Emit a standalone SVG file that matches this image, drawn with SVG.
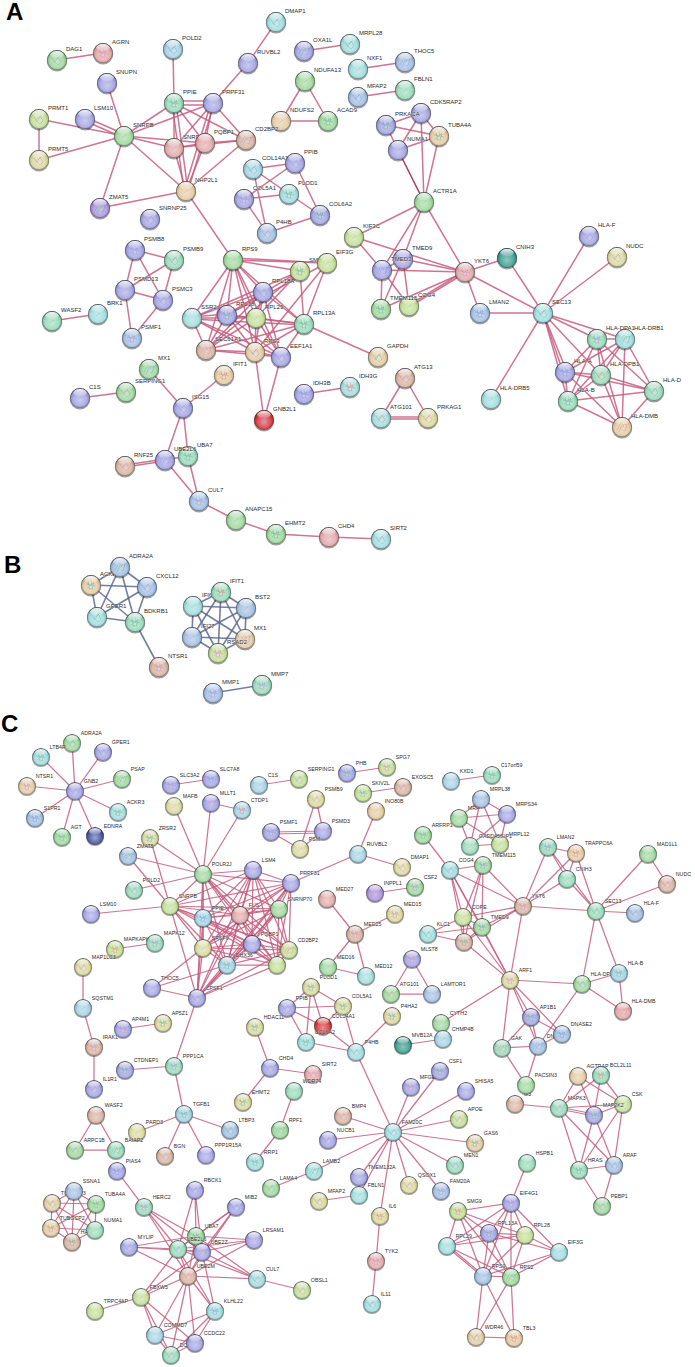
<svg xmlns="http://www.w3.org/2000/svg" width="695" height="1367" viewBox="0 0 695 1367">
<style>
.bg{fill:#fff}
.panel{font:bold 24px "Liberation Sans",Arial,sans-serif;fill:#000}
.e path{fill:none;stroke:#c75c7e;stroke-width:1.5;stroke-opacity:.85}
.e.c path{stroke-width:1.25}
.e.b path{stroke:#5b6890;stroke-width:1.6}
.n{stroke:#7a64b8}
.n text{font:6px "Liberation Sans",Arial,sans-serif;fill:#2a2a2a;stroke:#fff;stroke-width:.7;stroke-opacity:.6;paint-order:stroke}
.x1{stroke:#2a8a70}.x2{stroke:#c0503c}.x3{stroke:#4068c0}.x4{stroke:#b05aa0}
.g{fill:#9cd89a}.m{fill:#96dab8}.t{fill:#9edcdc}.lb{fill:#a2d2e4}.bl{fill:#a0bee2}.p{fill:#a2a2e4}.v{fill:#a892dc}.r{fill:#e2a6a6}.s{fill:#e4caa0}.o{fill:#d8b29e}.y{fill:#dad89a}.l{fill:#c2de94}.d{fill:#3a9c8e}.R{fill:#d63434}.N{fill:#46549c}
</style>
<defs>
<radialGradient id="sh" cx=".5" cy=".6" r=".58"><stop offset="0" stop-color="#fff" stop-opacity=".45"/><stop offset=".6" stop-color="#fff" stop-opacity=".12"/><stop offset=".82" stop-color="#000" stop-opacity=".08"/><stop offset="1" stop-color="#000" stop-opacity=".55"/></radialGradient>
<linearGradient id="hl" x1="0" y1="0" x2="0" y2="1"><stop offset="0" stop-color="#fff" stop-opacity=".95"/><stop offset="1" stop-color="#fff" stop-opacity=".1"/></linearGradient>
<g id="base"><circle cy="1.3" r="10.2" fill="#000" fill-opacity=".38" stroke="none"/><circle r="9.9" stroke="none"/></g>
<g id="top"><circle r="9.9" fill="url(#sh)" stroke="none"/><ellipse cy="-5.4" rx="6.8" ry="3.8" fill="url(#hl)" stroke="none"/><circle r="9.6" fill="none" stroke="#223" stroke-opacity=".5" stroke-width=".7"/></g>
<g id="a"><use href="#base"/><path d="M-5-2L-2 3 1-3 4 2 1 5-3 1 0-1 3-4" fill="none" stroke-width=".45" stroke-opacity=".8"/><use href="#top"/></g>
<g id="b"><use href="#base"/><path d="M-5 3L-1-4 2-1-2 2 3 4 5-3 0-2-3 5" fill="none" stroke-width=".45" stroke-opacity=".8"/><use href="#top"/></g>
<g id="c"><use href="#base"/><path d="M-3-5L-1 5M0-5L2 5M-5-1L5 1M3-3L-4 3M-4-3L-1 1 3-2 1 4-3 3" fill="none" stroke-width=".45" stroke-opacity=".85"/><use href="#top"/></g>
<g id="f"><use href="#base"/><path d="M-2 2L2-1" fill="none" stroke-width=".45" stroke-opacity=".8"/><use href="#top"/></g>
</defs>
<rect class="bg" width="695" height="1367"/>
<g id="connectors">
<g class="e" id="edges-A">
<path d="M57 60L103 53"/><path d="M173 49L174 103"/><path d="M248 63L276 22"/><path d="M248 63L213 103"/><path d="M304 51L350 44"/><path d="M358 69L405 62"/><path d="M358 97L405 90"/><path d="M305 81L281 121"/><path d="M305 81L328 121"/><path d="M281 121L328 121"/>
<path d="M107 83L124 136"/><path d="M39 119L39 160"/><path d="M39 119L124 136"/><path d="M85 117L124 134"/><path d="M85 121L124 138"/><path d="M39 160L124 136"/><path d="M124 136L174 103"/><path d="M124 136L213 103"/><path d="M124 136L174 148"/><path d="M124 136L205 143"/><path d="M124 136L186 191"/><path d="M124 136L100 208"/><path d="M100 208L186 191"/>
<path d="M174 101L213 101"/><path d="M174 105L213 105"/><path d="M174 103L174 148"/><path d="M174 103L205 143"/><path d="M174 103L246 140"/><path d="M172 103L184 191"/><path d="M176 103L188 191"/><path d="M213 103L174 148"/><path d="M213 103L205 143"/><path d="M213 103L246 140"/><path d="M211 103L184 191"/><path d="M214 103L188 191"/><path d="M174 148L205 143"/><path d="M174 148L246 140"/><path d="M174 148L186 191"/><path d="M205 143L246 140"/><path d="M205 143L186 191"/><path d="M246 140L186 191"/><path d="M186 191L233 260"/>
<path d="M253 169L295 163"/><path d="M253 169L289 194"/><path d="M253 169L267 233"/><path d="M244 199L289 194"/><path d="M244 199L267 233"/><path d="M244 199L295 163"/><path d="M295 163L320 215"/><path d="M289 194L320 215"/><path d="M267 233L320 215"/>
<path d="M135 250L174 260"/><path d="M135 250L125 290"/><path d="M135 250L163 300"/><path d="M174 260L163 300"/><path d="M174 260L125 290"/><path d="M125 290L163 300"/><path d="M125 290L132 338"/><path d="M163 300L132 338"/><path d="M52 321L98 314"/><path d="M80 398L126 392"/><path d="M149 369L183 408"/><path d="M224 375L183 408"/><path d="M183 408L165 460"/><path d="M183 408L188 456"/><path d="M125 467L165 461"/><path d="M125 465L165 459"/><path d="M165 460L188 456"/><path d="M165 460L199 501"/><path d="M188 456L199 501"/><path d="M199 501L236 520"/><path d="M236 520L276 534"/><path d="M276 534L329 537"/><path d="M329 537L381 539"/><path d="M304 394L350 387"/><path d="M405 378L381 418"/><path d="M405 378L428 418"/><path d="M381 417L428 417"/><path d="M381 419L428 419"/><path d="M264 420L255 352"/><path d="M264 420L281 357"/><path d="M304 324L378 357"/>
<path d="M233 260L300 271"/><path d="M233 258L327 263"/><path d="M233 260L327 263"/><path d="M233 260L263 292"/><path d="M233 260L227 315"/><path d="M233 260L192 318"/><path d="M233 260L256 318"/><path d="M233 260L304 324"/><path d="M233 260L206 350"/><path d="M233 260L255 352"/><path d="M233 260L281 357"/>
<path d="M300 271L304 324"/><path d="M327 263L304 324"/><path d="M327 263L227 315"/><path d="M300 271L227 315"/><path d="M300 271L256 318"/><path d="M300 271L192 318"/><path d="M300 271L206 350"/><path d="M327 263L255 352"/>
<path d="M263 292L192 318"/><path d="M263 292L227 315"/><path d="M263 292L256 318"/><path d="M263 292L304 324"/><path d="M263 292L206 350"/><path d="M263 292L255 352"/><path d="M263 292L281 357"/>
<path d="M192 317L227 314"/><path d="M192 318L256 318"/><path d="M192 319L304 325"/><path d="M192 318L206 350"/><path d="M192 318L255 352"/><path d="M192 318L281 357"/>
<path d="M227 315L256 318"/><path d="M227 315L304 324"/><path d="M227 315L206 350"/><path d="M227 315L255 352"/><path d="M227 315L281 357"/><path d="M256 318L304 324"/><path d="M256 318L206 350"/><path d="M256 318L255 352"/><path d="M256 318L281 357"/><path d="M304 324L206 350"/><path d="M304 324L255 352"/><path d="M304 324L281 357"/><path d="M206 350L255 352"/><path d="M206 350L281 357"/><path d="M255 352L281 357"/>
<path d="M354 237L424 202"/><path d="M354 237L465 272"/><path d="M354 237L382 270"/><path d="M424 202L403 259"/><path d="M424 202L382 270"/><path d="M424 202L465 272"/><path d="M382 270L403 259"/><path d="M382 270L465 272"/><path d="M403 259L465 272"/><path d="M382 270L381 309"/><path d="M382 270L409 306"/><path d="M403 259L381 309"/><path d="M403 259L409 306"/><path d="M381 309L465 272"/><path d="M409 305L465 271"/><path d="M409 307L465 273"/>
<path d="M398 150L424 202" style="stroke:#b03860;stroke-opacity:1"/><path d="M421 113L424 202"/><path d="M439 136L424 202"/><path d="M386 125L421 113"/><path d="M386 125L439 136"/><path d="M386 125L398 150"/><path d="M421 113L439 136"/><path d="M421 113L398 150"/><path d="M398 150L439 136"/>
<path d="M465 272L507 258"/><path d="M465 272L480 313"/><path d="M465 272L543 313"/><path d="M507 258L543 313"/><path d="M480 313L543 313"/><path d="M589 236L543 313"/><path d="M617 257L543 313"/><path d="M543 313L491 399"/><path d="M543 313L597 339"/><path d="M543 313L625 339"/><path d="M543 313L563 372"/><path d="M543 313L567 372"/><path d="M543 313L601 375"/><path d="M543 313L568 401"/>
<path d="M565 372L597 339"/><path d="M565 372L625 339"/><path d="M565 372L601 375"/><path d="M565 372L568 401"/><path d="M565 372L654 391"/><path d="M565 372L622 427"/><path d="M597 339L625 339"/><path d="M597 339L601 375"/><path d="M597 339L568 401"/><path d="M597 339L654 391"/><path d="M597 339L622 427"/><path d="M625 339L601 375"/><path d="M625 339L568 401"/><path d="M625 339L654 391"/><path d="M625 339L622 427"/><path d="M601 375L568 401"/><path d="M601 375L654 391"/><path d="M601 375L622 427"/><path d="M568 401L654 391"/><path d="M568 401L622 427"/><path d="M654 391L622 427"/>
</g>
<g class="e b" id="edges-B">
<path d="M120 567L91 585"/><path d="M120 567L147 587"/><path d="M120 567L97 617"/><path d="M120 567L135 622"/><path d="M91 585L147 587"/><path d="M91 585L97 617"/><path d="M91 585L135 622"/><path d="M147 587L97 617"/><path d="M147 587L135 622"/><path d="M97 617L135 622"/><path d="M135 622L159 667"/>
<path d="M221 592L246 608"/><path d="M221 592L193 606"/><path d="M221 592L245 639"/><path d="M221 592L192 637"/><path d="M221 592L218 653"/><path d="M246 608L193 606"/><path d="M246 608L245 639"/><path d="M246 608L192 637"/><path d="M246 608L218 653"/><path d="M193 606L245 639"/><path d="M193 606L192 637"/><path d="M193 606L218 653"/><path d="M245 639L192 637"/><path d="M245 639L218 653"/><path d="M192 637L218 653"/><path d="M213 693L262 685"/>
</g>
<g class="e c" id="edges-C">
<path d="M75 791L72 743"/><path d="M75 791L103 752"/><path d="M75 791L41 757"/><path d="M75 791L122 779"/><path d="M75 791L27 786"/><path d="M75 791L118 812"/><path d="M75 791L35 818"/><path d="M75 791L62 837"/><path d="M75 791L95 836"/>
<path d="M171 785L211 779"/><path d="M259 785L299 779"/><path d="M347 773L387 767"/><path d="M363 793L403 787"/><path d="M451 781L492 775"/><path d="M376 811L358 854"/><path d="M358 854L402 867"/><path d="M358 854L291 883"/><path d="M316 799L323 831"/><path d="M316 799L300 849"/><path d="M271 832L323 831"/><path d="M271 834L323 833"/><path d="M271 832L300 849"/><path d="M323 831L300 849"/>
<path d="M174 806L203 874"/><path d="M211 803L203 874"/><path d="M211 803L242 810"/><path d="M242 810L203 874"/><path d="M150 838L203 874"/><path d="M150 838L170 906"/><path d="M128 856L203 874"/><path d="M128 856L170 906"/><path d="M134 890L203 874"/><path d="M91 914L170 906"/>
<path d="M203 874L253 870"/><path d="M203 874L291 883"/><path d="M203 874L170 906"/><path d="M203 874L203 918"/><path d="M203 874L240 915"/><path d="M203 874L279 909"/><path d="M203 874L203 948"/><path d="M203 874L252 944"/><path d="M203 874L289 950"/><path d="M203 874L227 965"/><path d="M203 874L277 965"/><path d="M203 874L197 998"/>
<path d="M253 870L291 883"/><path d="M253 870L170 906"/><path d="M253 870L203 918"/><path d="M253 870L240 915"/><path d="M253 870L279 909"/><path d="M253 870L203 948"/><path d="M253 870L252 944"/><path d="M253 870L289 950"/><path d="M253 870L227 965"/><path d="M253 870L277 965"/><path d="M253 870L197 998"/>
<path d="M291 883L170 906"/><path d="M291 883L203 918"/><path d="M291 883L240 915"/><path d="M291 883L279 909"/><path d="M291 883L203 948"/><path d="M291 883L252 944"/><path d="M291 883L289 950"/><path d="M291 883L227 965"/><path d="M291 883L277 965"/><path d="M291 883L197 998"/>
<path d="M170 906L203 918"/><path d="M170 906L240 915"/><path d="M170 906L279 909"/><path d="M170 906L203 948"/><path d="M170 906L252 944"/><path d="M170 906L289 950"/><path d="M170 906L227 965"/><path d="M170 906L277 965"/><path d="M170 906L197 998"/>
<path d="M203 918L240 915"/><path d="M203 918L279 909"/><path d="M203 918L203 948"/><path d="M203 918L252 944"/><path d="M203 918L289 950"/><path d="M203 918L227 965"/><path d="M203 918L277 965"/><path d="M203 918L197 998"/>
<path d="M240 915L279 909"/><path d="M240 915L203 948"/><path d="M240 915L252 944"/><path d="M240 915L289 950"/><path d="M240 915L227 965"/><path d="M240 915L277 965"/><path d="M240 915L197 998"/>
<path d="M279 909L203 948"/><path d="M279 909L252 944"/><path d="M279 909L289 950"/><path d="M279 909L227 965"/><path d="M279 909L277 965"/><path d="M279 909L197 998"/>
<path d="M203 948L252 944"/><path d="M203 948L289 950"/><path d="M203 948L227 965"/><path d="M203 948L277 965"/><path d="M203 948L197 998"/>
<path d="M252 944L289 950"/><path d="M252 944L227 965"/><path d="M252 944L277 965"/><path d="M252 944L197 998"/>
<path d="M289 950L227 965"/><path d="M289 950L277 965"/><path d="M289 950L197 998"/><path d="M227 965L277 965"/><path d="M227 965L197 998"/><path d="M277 965L197 998"/>
<path d="M155 943L115 949"/><path d="M83 967L83 1008"/><path d="M83 1008L94 1047"/><path d="M94 1047L94 1089"/><path d="M123 1029L163 1023"/><path d="M125 1070L174 1066"/><path d="M197 998L174 1066"/><path d="M152 988L197 998"/><path d="M152 988L203 948"/><path d="M152 988L227 965"/><path d="M174 1066L184 1114"/><path d="M184 1114L137 1132"/><path d="M184 1114L230 1130"/><path d="M184 1114L165 1156"/><path d="M184 1114L206 1155"/><path d="M96 1115L75 1150"/><path d="M96 1115L116 1150"/><path d="M75 1150L116 1150"/><path d="M117 1171L144 1207"/>
<path d="M327 899L355 934"/><path d="M355 934L395 914"/><path d="M355 934L328 967"/><path d="M355 934L366 976"/><path d="M328 967L366 976"/><path d="M375 893L415 887"/>
<path d="M311 987L287 1008"/><path d="M311 987L343 1006"/><path d="M311 987L323 1026"/><path d="M311 987L306 1042"/><path d="M287 1008L343 1006"/><path d="M287 1008L323 1026"/><path d="M287 1008L306 1042"/><path d="M343 1006L323 1026"/><path d="M343 1006L356 1052"/><path d="M323 1026L356 1052"/><path d="M306 1042L356 1052"/><path d="M392 1016L356 1052"/><path d="M255 1027L270 1068"/><path d="M270 1068L313 1074"/><path d="M270 1068L243 1102"/><path d="M294 1091L280 1130"/><path d="M280 1130L255 1162"/><path d="M356 1052L393 1132"/>
<path d="M412 959L391 994"/><path d="M412 959L432 994"/><path d="M391 994L432 994"/><path d="M441 1023L510 980"/><path d="M403 1045L443 1039"/>
<path d="M393 1132L440 1071"/><path d="M393 1132L411 1087"/><path d="M393 1132L466 1091"/><path d="M393 1132L459 1119"/><path d="M393 1132L475 1143"/><path d="M393 1132L455 1165"/><path d="M393 1132L441 1191"/><path d="M393 1132L409 1185"/><path d="M393 1132L359 1177"/><path d="M393 1132L380 1216"/><path d="M393 1132L343 1116"/><path d="M393 1132L328 1140"/><path d="M393 1132L359 1195"/><path d="M393 1132L314 1171"/><path d="M319 1201L359 1195"/><path d="M314 1171L271 1188"/><path d="M380 1216L376 1261"/><path d="M376 1261L372 1304"/>
<path d="M423 835L450 870"/><path d="M481 799L507 814"/><path d="M481 799L459 818"/><path d="M481 799L470 846"/><path d="M481 799L500 844"/><path d="M507 814L459 818"/><path d="M507 814L470 846"/><path d="M507 814L500 844"/><path d="M459 818L470 846"/><path d="M459 818L500 844"/><path d="M470 846L500 844"/>
<path d="M450 870L483 865"/><path d="M450 870L523 906"/><path d="M483 865L523 906"/><path d="M450 870L463 917"/><path d="M450 870L482 927"/><path d="M450 870L464 942"/><path d="M483 865L463 917"/><path d="M483 865L482 927"/><path d="M483 865L464 942"/><path d="M428 934L463 917"/><path d="M428 934L482 927"/><path d="M428 934L464 942"/><path d="M463 917L482 927"/><path d="M463 917L464 942"/><path d="M482 927L464 942"/><path d="M463 917L523 906"/><path d="M482 927L523 906"/><path d="M464 942L523 906"/><path d="M463 917L510 980"/><path d="M482 927L510 980"/><path d="M464 942L510 980"/><path d="M523 906L510 980"/><path d="M450 870L510 980"/>
<path d="M523 906L548 847"/><path d="M523 906L576 853"/><path d="M523 906L567 879"/><path d="M523 906L596 911"/><path d="M548 847L576 853"/><path d="M548 847L567 879"/><path d="M548 847L596 911"/><path d="M576 853L596 911"/><path d="M576 853L567 879"/><path d="M567 879L596 911"/><path d="M648 854L667 884"/><path d="M648 854L596 911"/><path d="M667 884L596 911"/><path d="M596 911L635 913"/><path d="M596 911L582 984"/><path d="M596 911L619 973"/>
<path d="M510 980L582 984"/><path d="M582 984L619 973"/><path d="M582 984L623 1011"/><path d="M619 973L623 1011"/><path d="M582 984L538 1046"/><path d="M510 980L531 1017"/><path d="M510 980L538 1046"/><path d="M510 980L562 1034"/><path d="M510 980L502 1048"/><path d="M531 1017L562 1034"/><path d="M531 1017L502 1048"/><path d="M531 1017L538 1046"/><path d="M538 1046L502 1048"/><path d="M538 1046L562 1034"/><path d="M502 1048L526 1085"/><path d="M538 1046L526 1085"/>
<path d="M515 1104L559 1108"/><path d="M578 1076L559 1108"/><path d="M578 1076L594 1115"/><path d="M578 1076L623 1104"/><path d="M601 1075L559 1108"/><path d="M601 1075L594 1115"/><path d="M601 1075L623 1104"/><path d="M559 1107L594 1114"/><path d="M559 1109L594 1116"/><path d="M559 1108L623 1104"/><path d="M594 1115L623 1104"/><path d="M559 1108L579 1170"/><path d="M559 1108L614 1165"/><path d="M594 1115L579 1170"/><path d="M594 1115L614 1165"/><path d="M623 1104L579 1170"/><path d="M623 1104L614 1165"/><path d="M579 1170L614 1165"/><path d="M579 1170L602 1206"/><path d="M614 1165L602 1206"/>
<path d="M527 1163L511 1203"/><path d="M458 1211L511 1203"/><path d="M458 1211L489 1233"/><path d="M458 1211L525 1235"/><path d="M458 1211L447 1246"/><path d="M458 1211L483 1276"/><path d="M458 1211L511 1277"/><path d="M511 1203L489 1233"/><path d="M511 1203L525 1235"/><path d="M511 1203L447 1246"/><path d="M511 1203L483 1276"/><path d="M511 1203L511 1277"/><path d="M511 1203L559 1252"/><path d="M489 1233L525 1235"/><path d="M489 1233L447 1246"/><path d="M489 1233L483 1276"/><path d="M489 1233L511 1277"/><path d="M489 1233L559 1252"/><path d="M525 1235L447 1246"/><path d="M525 1235L483 1276"/><path d="M525 1235L511 1277"/><path d="M525 1235L559 1252"/><path d="M447 1245L483 1275"/><path d="M447 1247L483 1277"/><path d="M447 1246L511 1277"/><path d="M483 1276L511 1277"/><path d="M483 1276L559 1252"/><path d="M511 1277L559 1252"/><path d="M483 1276L476 1337"/><path d="M483 1276L514 1338"/><path d="M511 1277L476 1337"/><path d="M511 1277L514 1338"/><path d="M476 1337L514 1338"/>
<path d="M144 1207L196 1236"/><path d="M144 1207L178 1249"/><path d="M144 1207L202 1252"/><path d="M144 1207L188 1276"/><path d="M195 1190L196 1236"/><path d="M195 1190L178 1249"/><path d="M195 1190L202 1252"/><path d="M236 1207L178 1249"/><path d="M236 1207L202 1252"/><path d="M236 1207L188 1276"/><path d="M236 1207L196 1236"/><path d="M129 1247L196 1236"/><path d="M129 1247L178 1249"/><path d="M129 1247L202 1252"/><path d="M129 1247L188 1276"/><path d="M254 1240L196 1236"/><path d="M254 1240L178 1249"/><path d="M254 1240L202 1252"/><path d="M254 1240L188 1276"/><path d="M196 1236L178 1249"/><path d="M196 1236L202 1252"/><path d="M196 1236L188 1276"/><path d="M178 1249L202 1252"/><path d="M178 1249L188 1276"/><path d="M202 1252L188 1276"/><path d="M257 1279L178 1249"/><path d="M257 1279L202 1252"/><path d="M257 1279L188 1276"/><path d="M257 1279L196 1236"/><path d="M257 1279L302 1290"/><path d="M141 1297L178 1249"/><path d="M141 1297L202 1252"/><path d="M141 1297L188 1276"/><path d="M95 1311L141 1297"/><path d="M215 1311L188 1276"/><path d="M215 1311L202 1252"/><path d="M215 1311L178 1249"/><path d="M141 1297L155 1335"/><path d="M141 1297L195 1343"/><path d="M141 1297L171 1355"/><path d="M188 1276L155 1335"/><path d="M188 1276L195 1343"/><path d="M188 1276L171 1355"/><path d="M215 1311L155 1335"/><path d="M215 1311L195 1343"/><path d="M215 1311L171 1355"/><path d="M155 1335L195 1343"/><path d="M155 1335L171 1355"/><path d="M195 1343L171 1355"/>
<path d="M74 1191L52 1203"/><path d="M74 1191L96 1204"/><path d="M74 1191L95 1230"/><path d="M74 1191L51 1228"/><path d="M74 1191L72 1242"/><path d="M52 1203L96 1204"/><path d="M52 1203L95 1230"/><path d="M52 1203L51 1228"/><path d="M52 1203L72 1242"/><path d="M96 1204L95 1230"/><path d="M96 1204L51 1228"/><path d="M96 1204L72 1242"/><path d="M95 1230L51 1228"/><path d="M95 1230L72 1242"/><path d="M51 1228L72 1242"/>
</g>
</g>
<g id="panel-labels"><text class="panel" x="6" y="20">A</text><text class="panel" x="4" y="573">B</text><text class="panel" x="1" y="732">C</text></g>
<g id="nodes-A">
<g id="a1" class="n g" transform="translate(57 60)"><use href="#a"/><text x="9" y="-9">DAG1</text></g>
<g id="a2" class="n r x4" transform="translate(103 53)"><use href="#c"/><text x="9" y="-9">AGRN</text></g>
<g id="a3" class="n lb x3" transform="translate(173 49)"><use href="#a"/><text x="9" y="-9">POLD2</text></g>
<g id="a4" class="n p" transform="translate(107 83)"><use href="#f"/><text x="9" y="-9">SNUPN</text></g>
<g id="a5" class="n m x1" transform="translate(174 103)"><use href="#c"/><text x="9" y="-9">PPIE</text></g>
<g id="a6" class="n p" transform="translate(213 103)"><use href="#f"/><text x="9" y="-9">PRPF31</text></g>
<g id="a7" class="n p" transform="translate(248 63)"><use href="#f"/><text x="9" y="-9">RUVBL2</text></g>
<g id="a8" class="n t" transform="translate(276 22)"><use href="#a"/><text x="9" y="-9">DMAP1</text></g>
<g id="a9" class="n p x1" transform="translate(304 51)"><use href="#b"/><text x="9" y="-9">OXA1L</text></g>
<g id="a10" class="n t x1" transform="translate(350 44)"><use href="#a"/><text x="9" y="-9">MRPL28</text></g>
<g id="a11" class="n t" transform="translate(358 69)"><use href="#f"/><text x="9" y="-9">NXF1</text></g>
<g id="a12" class="n bl x3" transform="translate(405 62)"><use href="#b"/><text x="9" y="-9">THOC5</text></g>
<g id="a13" class="n bl x3" transform="translate(358 97)"><use href="#a"/><text x="9" y="-9">MFAP2</text></g>
<g id="a14" class="n m x1" transform="translate(405 90)"><use href="#f"/><text x="9" y="-9">FBLN1</text></g>
<g id="a15" class="n g x2" transform="translate(305 81)"><use href="#f"/><text x="9" y="-9">NDUFA13</text></g>
<g id="a16" class="n s x4" transform="translate(281 121)"><use href="#f"/><text x="9" y="-9">NDUFS2</text></g>
<g id="a17" class="n g x1" transform="translate(328 121)"><use href="#c"/><text x="9" y="-9">ACAD9</text></g>
<g id="a18" class="n l" transform="translate(39 119)"><use href="#a"/><text x="9" y="-9">PRMT1</text></g>
<g id="a19" class="n p" transform="translate(85 119)"><use href="#base"/><use href="#top"/><text x="9" y="-9">LSM10</text></g>
<g id="a20" class="n g" transform="translate(124 136)"><use href="#f"/><text x="9" y="-9">SNRPB</text></g>
<g id="a21" class="n y x4" transform="translate(39 160)"><use href="#a"/><text x="9" y="-9">PRMT5</text></g>
<g id="a22" class="n r" transform="translate(174 148)"><use href="#f"/><text x="9" y="-9">SNRPD</text></g>
<g id="a24" class="n o" transform="translate(246 140)"><use href="#b"/><text x="9" y="-9">CD2BP2</text></g>
<g id="a23" class="n r" transform="translate(205 143)"><use href="#f"/><text x="9" y="-9">PQBP1</text></g>
<g id="a25" class="n s" transform="translate(186 191)"><use href="#f"/><text x="9" y="-9">NHP2L1</text></g>
<g id="a26" class="n v x1" transform="translate(100 208)"><use href="#b"/><text x="9" y="-9">ZMAT5</text></g>
<g id="a27" class="n p" transform="translate(150 219)"><use href="#a"/><text x="9" y="-9">SNRNP25</text></g>
<g id="a28" class="n lb x1" transform="translate(253 169)"><use href="#a"/><text x="9" y="-9">COL14A1</text></g>
<g id="a29" class="n p" transform="translate(295 163)"><use href="#a"/><text x="9" y="-9">PPIB</text></g>
<g id="a30" class="n t x1" transform="translate(289 194)"><use href="#c"/><text x="9" y="-9">PLOD1</text></g>
<g id="a31" class="n p" transform="translate(244 199)"><use href="#c"/><text x="9" y="-9">COL5A1</text></g>
<g id="a32" class="n p x1" transform="translate(320 215)"><use href="#c"/><text x="9" y="-9">COL6A2</text></g>
<g id="a33" class="n bl" transform="translate(267 233)"><use href="#a"/><text x="9" y="-9">P4HB</text></g>
<g id="a34" class="n p" transform="translate(135 250)"><use href="#c"/><text x="9" y="-9">PSMB8</text></g>
<g id="a35" class="n m" transform="translate(174 260)"><use href="#a"/><text x="9" y="-9">PSMB9</text></g>
<g id="a36" class="n p" transform="translate(125 290)"><use href="#f"/><text x="9" y="-9">PSMD13</text></g>
<g id="a37" class="n p" transform="translate(163 300)"><use href="#a"/><text x="9" y="-9">PSMC3</text></g>
<g id="a38" class="n t x3" transform="translate(98 314)"><use href="#f"/><text x="9" y="-9">BRK1</text></g>
<g id="a39" class="n m x1" transform="translate(52 321)"><use href="#f"/><text x="9" y="-9">WASF2</text></g>
<g id="a40" class="n bl" transform="translate(132 338)"><use href="#c"/><text x="9" y="-9">PSMF1</text></g>
<g id="a41" class="n g x3" transform="translate(149 369)"><use href="#b"/><text x="9" y="-9">MX1</text></g>
<g id="a42" class="n g" transform="translate(126 392)"><use href="#a"/><text x="9" y="-9">SERPING1</text></g>
<g id="a43" class="n p" transform="translate(80 398)"><use href="#f"/><text x="9" y="-9">C1S</text></g>
<g id="a44" class="n p" transform="translate(183 408)"><use href="#a"/><text x="9" y="-9">ISG15</text></g>
<g id="a45" class="n s x2" transform="translate(224 375)"><use href="#c"/><text x="9" y="-9">IFIT1</text></g>
<g id="a46" class="n g" transform="translate(233 260)"><use href="#f"/><text x="9" y="-9">RPS9</text></g>
<g id="a47" class="n t" transform="translate(192 318)"><use href="#base"/><use href="#top"/><text x="9" y="-9">SSR2</text></g>
<g id="a49" class="n p x1" transform="translate(263 292)"><use href="#a"/><text x="9" y="-9">RPL18A</text></g>
<g id="a50" class="n l" transform="translate(256 318)"><use href="#f"/><text x="9" y="-9">RPL29</text></g>
<g id="a48" class="n p x1" transform="translate(227 315)"><use href="#c"/><text x="9" y="-9">RPL18</text></g>
<g id="a51" class="n l x1" transform="translate(300 271)"><use href="#c"/><text x="9" y="-9">SMG9</text></g>
<g id="a52" class="n l" transform="translate(327 263)"><use href="#f"/><text x="9" y="-9">EIF3G</text></g>
<g id="a53" class="n m x1" transform="translate(304 324)"><use href="#c"/><text x="9" y="-9">RPL13A</text></g>
<g id="a55" class="n s x3" transform="translate(255 352)"><use href="#a"/><text x="9" y="-9">RPS3</text></g>
<g id="a54" class="n o x4" transform="translate(206 350)"><use href="#b"/><text x="9" y="-9">SEC61A1</text></g>
<g id="a56" class="n p" transform="translate(281 357)"><use href="#a"/><text x="9" y="-9">EEF1A1</text></g>
<g id="a57" class="n R x4" transform="translate(264 420)"><use href="#c"/><text x="9" y="-9">GNB2L1</text></g>
<g id="a58" class="n p x3" transform="translate(304 394)"><use href="#c"/><text x="9" y="-9">IDH3B</text></g>
<g id="a59" class="n t x2" transform="translate(350 387)"><use href="#c"/><text x="9" y="-9">IDH3G</text></g>
<g id="a60" class="n s x1" transform="translate(378 357)"><use href="#a"/><text x="9" y="-9">GAPDH</text></g>
<g id="a61" class="n o x4" transform="translate(405 378)"><use href="#a"/><text x="9" y="-9">ATG13</text></g>
<g id="a62" class="n t x2" transform="translate(381 418)"><use href="#a"/><text x="9" y="-9">ATG101</text></g>
<g id="a63" class="n y x4" transform="translate(428 418)"><use href="#a"/><text x="9" y="-9">PRKAG1</text></g>
<g id="a64" class="n o x4" transform="translate(125 466)"><use href="#a"/><text x="9" y="-9">RNF25</text></g>
<g id="a66" class="n m x1" transform="translate(188 456)"><use href="#c"/><text x="9" y="-9">UBA7</text></g>
<g id="a65" class="n p" transform="translate(165 460)"><use href="#b"/><text x="9" y="-9">UBE2L6</text></g>
<g id="a67" class="n bl" transform="translate(199 501)"><use href="#c"/><text x="9" y="-9">CUL7</text></g>
<g id="a68" class="n g" transform="translate(236 520)"><use href="#f"/><text x="9" y="-9">ANAPC15</text></g>
<g id="a69" class="n g x1" transform="translate(276 534)"><use href="#c"/><text x="9" y="-9">EHMT2</text></g>
<g id="a70" class="n r x4" transform="translate(329 537)"><use href="#f"/><text x="9" y="-9">CHD4</text></g>
<g id="a71" class="n t" transform="translate(381 539)"><use href="#a"/><text x="9" y="-9">SIRT2</text></g>
<g id="a72" class="n l x4" transform="translate(354 237)"><use href="#f"/><text x="9" y="-9">KIF3C</text></g>
<g id="a73" class="n g" transform="translate(424 202)"><use href="#f"/><text x="9" y="-9">ACTR1A</text></g>
<g id="a75" class="n p x2" transform="translate(403 259)"><use href="#f"/><text x="9" y="-9">TMED9</text></g>
<g id="a74" class="n p x3" transform="translate(382 270)"><use href="#b"/><text x="9" y="-9">TMED3</text></g>
<g id="a77" class="n l" transform="translate(409 306)"><use href="#f"/><text x="9" y="-9">COG4</text></g>
<g id="a76" class="n g x1" transform="translate(381 309)"><use href="#c"/><text x="9" y="-9">TMEM115</text></g>
<g id="a78" class="n r x4" transform="translate(465 272)"><use href="#c"/><text x="9" y="-9">YKT6</text></g>
<g id="a79" class="n d x1" transform="translate(507 258)"><use href="#f"/><text x="9" y="-9">CNIH3</text></g>
<g id="a80" class="n bl x3" transform="translate(480 313)"><use href="#c"/><text x="9" y="-9">LMAN2</text></g>
<g id="a81" class="n t x1" transform="translate(543 313)"><use href="#a"/><text x="9" y="-9">SEC13</text></g>
<g id="a82" class="n p" transform="translate(589 236)"><use href="#a"/><text x="9" y="-9">HLA-F</text></g>
<g id="a83" class="n y x4" transform="translate(617 257)"><use href="#a"/><text x="9" y="-9">NUDC</text></g>
<g id="a84" class="n t x1" transform="translate(491 399)"><use href="#f"/><text x="9" y="-9">HLA-DRB5</text></g>
<g id="a85" class="n m" transform="translate(597 339)"><use href="#c"/><text x="9" y="-9">HLA-DPA1</text></g>
<g id="a86" class="n t x1" transform="translate(625 339)"><use href="#b"/><text x="9" y="-9">HLA-DRB1</text></g>
<g id="a88" class="n m x2" transform="translate(601 375)"><use href="#a"/><text x="9" y="-9">HLA-DPB1</text></g>
<g id="a87" class="n p x3" transform="translate(565 372)"><use href="#c"/><text x="9" y="-9">HLA-A</text></g>
<g id="a89" class="n m x1" transform="translate(568 401)"><use href="#c"/><text x="9" y="-9">HLA-B</text></g>
<g id="a90" class="n m" transform="translate(654 391)"><use href="#a"/><text x="9" y="-9">HLA-D</text></g>
<g id="a91" class="n s x2" transform="translate(622 427)"><use href="#b"/><text x="9" y="-9">HLA-DMB</text></g>
<g id="a93" class="n p x3" transform="translate(421 113)"><use href="#f"/><text x="9" y="-9">CDK5RAP2</text></g>
<g id="a92" class="n p x1" transform="translate(386 125)"><use href="#c"/><text x="9" y="-9">PRKACA</text></g>
<g id="a94" class="n s x1" transform="translate(439 136)"><use href="#c"/><text x="9" y="-9">TUBA4A</text></g>
<g id="a95" class="n p" transform="translate(398 150)"><use href="#f"/><text x="9" y="-9">NUMA1</text></g>
</g>
<g id="nodes-B">
<g id="b2" class="n s x1" transform="translate(91 585)"><use href="#c"/><text x="9" y="-9">ACKR3</text></g>
<g id="b1" class="n bl x1" transform="translate(120 567)"><use href="#b"/><text x="9" y="-9">ADRA2A</text></g>
<g id="b3" class="n bl" transform="translate(147 587)"><use href="#a"/><text x="9" y="-9">CXCL12</text></g>
<g id="b4" class="n t x1" transform="translate(97 617)"><use href="#a"/><text x="9" y="-9">GPER1</text></g>
<g id="b5" class="n m x1" transform="translate(135 622)"><use href="#c"/><text x="9" y="-9">BDKRB1</text></g>
<g id="b6" class="n o x4" transform="translate(159 667)"><use href="#c"/><text x="9" y="-9">NTSR1</text></g>
<g id="b8" class="n bl x1" transform="translate(246 608)"><use href="#f"/><text x="9" y="-9">BST2</text></g>
<g id="b7" class="n m x2" transform="translate(221 592)"><use href="#c"/><text x="9" y="-9">IFIT1</text></g>
<g id="b9" class="n t x3" transform="translate(193 606)"><use href="#f"/><text x="9" y="-9">IFI6</text></g>
<g id="b10" class="n s" transform="translate(245 639)"><use href="#b"/><text x="9" y="-9">MX1</text></g>
<g id="b11" class="n bl x3" transform="translate(192 637)"><use href="#f"/><text x="9" y="-9">IFI27</text></g>
<g id="b12" class="n l x4" transform="translate(218 653)"><use href="#c"/><text x="9" y="-9">RSAD2</text></g>
<g id="b13" class="n bl" transform="translate(213 693)"><use href="#c"/><text x="9" y="-9">MMP1</text></g>
<g id="b14" class="n m" transform="translate(262 685)"><use href="#c"/><text x="9" y="-9">MMP7</text></g>
</g>
<g id="nodes-C">
<g id="c1" class="n g x3" transform="translate(72 743) scale(.88)"><use href="#a"/><text x="10" y="-9">ADRA2A</text></g>
<g id="c2" class="n p x3" transform="translate(103 752) scale(.88)"><use href="#a"/><text x="10" y="-9">GPER1</text></g>
<g id="c3" class="n t x1" transform="translate(41 757) scale(.88)"><use href="#c"/><text x="10" y="-9">LTB4R</text></g>
<g id="c4" class="n g x1" transform="translate(122 779) scale(.88)"><use href="#b"/><text x="10" y="-9">PSAP</text></g>
<g id="c5" class="n s x4" transform="translate(27 786) scale(.88)"><use href="#c"/><text x="10" y="-9">NTSR1</text></g>
<g id="c6" class="n p" transform="translate(75 791) scale(.88)"><use href="#a"/><text x="10" y="-9">GNB2</text></g>
<g id="c7" class="n t x1" transform="translate(118 812) scale(.88)"><use href="#c"/><text x="10" y="-9">ACKR3</text></g>
<g id="c8" class="n bl x3" transform="translate(35 818) scale(.88)"><use href="#c"/><text x="10" y="-9">S1PR1</text></g>
<g id="c9" class="n g x1" transform="translate(62 837) scale(.88)"><use href="#c"/><text x="10" y="-9">AGT</text></g>
<g id="c10" class="n N x3" transform="translate(95 836) scale(.88)"><use href="#c"/><text x="10" y="-9">EDNRA</text></g>
<g id="c11" class="n p" transform="translate(171 785) scale(.88)"><use href="#c"/><text x="10" y="-9">SLC3A2</text></g>
<g id="c12" class="n p x3" transform="translate(211 779) scale(.88)"><use href="#c"/><text x="10" y="-9">SLC7A8</text></g>
<g id="c13" class="n lb x3" transform="translate(259 785) scale(.88)"><use href="#f"/><text x="10" y="-9">C1S</text></g>
<g id="c14" class="n l" transform="translate(299 779) scale(.88)"><use href="#a"/><text x="10" y="-9">SERPING1</text></g>
<g id="c15" class="n p x1" transform="translate(347 773) scale(.88)"><use href="#c"/><text x="10" y="-9">PHB</text></g>
<g id="c16" class="n l x4" transform="translate(387 767) scale(.88)"><use href="#c"/><text x="10" y="-9">SPG7</text></g>
<g id="c17" class="n o x4" transform="translate(403 787) scale(.88)"><use href="#a"/><text x="10" y="-9">EXOSC5</text></g>
<g id="c18" class="n l x1" transform="translate(363 793) scale(.88)"><use href="#c"/><text x="10" y="-9">SKIV2L</text></g>
<g id="c19" class="n s x2" transform="translate(376 811) scale(.88)"><use href="#f"/><text x="10" y="-9">INO80B</text></g>
<g id="c20" class="n y x4" transform="translate(316 799) scale(.88)"><use href="#a"/><text x="10" y="-9">PSMB9</text></g>
<g id="c22" class="n p" transform="translate(323 831) scale(.88)"><use href="#f"/><text x="10" y="-9">PSMD3</text></g>
<g id="c21" class="n p" transform="translate(271 832) scale(.88)"><use href="#c"/><text x="10" y="-9">PSMF1</text></g>
<g id="c23" class="n y" transform="translate(300 849) scale(.88)"><use href="#f"/><text x="10" y="-9">PSM</text></g>
<g id="c24" class="n y x4" transform="translate(174 806) scale(.88)"><use href="#f"/><text x="10" y="-9">MAFB</text></g>
<g id="c25" class="n p x4" transform="translate(211 803) scale(.88)"><use href="#b"/><text x="10" y="-9">MLLT1</text></g>
<g id="c26" class="n lb x2" transform="translate(242 810) scale(.88)"><use href="#c"/><text x="10" y="-9">CTDP1</text></g>
<g id="c27" class="n y x1" transform="translate(150 838) scale(.88)"><use href="#c"/><text x="10" y="-9">ZRSR2</text></g>
<g id="c28" class="n bl x1" transform="translate(128 856) scale(.88)"><use href="#b"/><text x="10" y="-9">ZMAT5</text></g>
<g id="c29" class="n m" transform="translate(134 890) scale(.88)"><use href="#a"/><text x="10" y="-9">POLD2</text></g>
<g id="c30" class="n g x1" transform="translate(203 874) scale(.88)"><use href="#f"/><text x="10" y="-9">POLR2J</text></g>
<g id="c31" class="n p" transform="translate(253 870) scale(.88)"><use href="#f"/><text x="10" y="-9">LSM4</text></g>
<g id="c32" class="n p" transform="translate(291 883) scale(.88)"><use href="#f"/><text x="10" y="-9">PRPF31</text></g>
<g id="c33" class="n r" transform="translate(327 899) scale(.88)"><use href="#base"/><use href="#top"/><text x="10" y="-9">MED27</text></g>
<g id="c34" class="n l" transform="translate(170 906) scale(.88)"><use href="#f"/><text x="10" y="-9">SNRPB</text></g>
<g id="c35" class="n p" transform="translate(91 914) scale(.88)"><use href="#base"/><use href="#top"/><text x="10" y="-9">LSM10</text></g>
<g id="c36" class="n lb x3" transform="translate(203 918) scale(.88)"><use href="#c"/><text x="10" y="-9">PPIE</text></g>
<g id="c37" class="n r" transform="translate(240 915) scale(.88)"><use href="#f"/><text x="10" y="-9">FUS</text></g>
<g id="c38" class="n g x2" transform="translate(279 909) scale(.88)"><use href="#f"/><text x="10" y="-9">SNRNP70</text></g>
<g id="c39" class="n y" transform="translate(203 948) scale(.88)"><use href="#f"/><text x="10" y="-9">SRSF9</text></g>
<g id="c41" class="n l" transform="translate(277 965) scale(.88)"><use href="#base"/><use href="#top"/><text x="10" y="-9">PN</text></g>
<g id="c40" class="n p x3" transform="translate(252 944) scale(.88)"><use href="#f"/><text x="10" y="-9">PQBP1</text></g>
<g id="c42" class="n l x2" transform="translate(289 950) scale(.88)"><use href="#b"/><text x="10" y="-9">CD2BP2</text></g>
<g id="c43" class="n lb x1" transform="translate(227 965) scale(.88)"><use href="#c"/><text x="10" y="-9">DHX36</text></g>
<g id="c44" class="n p" transform="translate(197 998) scale(.88)"><use href="#a"/><text x="10" y="-9">CPSF1</text></g>
<g id="c46" class="n l x2" transform="translate(115 949) scale(.88)"><use href="#c"/><text x="10" y="-9">MAPKAPK</text></g>
<g id="c45" class="n m" transform="translate(155 943) scale(.88)"><use href="#c"/><text x="10" y="-9">MAPK12</text></g>
<g id="c47" class="n y x4" transform="translate(83 967) scale(.88)"><use href="#a"/><text x="10" y="-9">MAP1LC3</text></g>
<g id="c48" class="n p x3" transform="translate(152 988) scale(.88)"><use href="#f"/><text x="10" y="-9">THOC5</text></g>
<g id="c49" class="n lb x3" transform="translate(83 1008) scale(.88)"><use href="#f"/><text x="10" y="-9">SQSTM1</text></g>
<g id="c50" class="n p x4" transform="translate(123 1029) scale(.88)"><use href="#c"/><text x="10" y="-9">AP4M1</text></g>
<g id="c51" class="n y x1" transform="translate(163 1023) scale(.88)"><use href="#c"/><text x="10" y="-9">AP5Z1</text></g>
<g id="c52" class="n o x4" transform="translate(94 1047) scale(.88)"><use href="#c"/><text x="10" y="-9">IRAK1</text></g>
<g id="c53" class="n m" transform="translate(174 1066) scale(.88)"><use href="#c"/><text x="10" y="-9">PPP1CA</text></g>
<g id="c54" class="n p x1" transform="translate(125 1070) scale(.88)"><use href="#c"/><text x="10" y="-9">CTDNEP1</text></g>
<g id="c55" class="n p x4" transform="translate(94 1089) scale(.88)"><use href="#a"/><text x="10" y="-9">IL1R1</text></g>
<g id="c56" class="n o" transform="translate(96 1115) scale(.88)"><use href="#f"/><text x="10" y="-9">WASF2</text></g>
<g id="c57" class="n lb x1" transform="translate(184 1114) scale(.88)"><use href="#c"/><text x="10" y="-9">TGFB1</text></g>
<g id="c58" class="n y" transform="translate(137 1132) scale(.88)"><use href="#f"/><text x="10" y="-9">PARD3</text></g>
<g id="c59" class="n bl x1" transform="translate(230 1130) scale(.88)"><use href="#a"/><text x="10" y="-9">LTBP3</text></g>
<g id="c60" class="n o x4" transform="translate(165 1156) scale(.88)"><use href="#a"/><text x="10" y="-9">BGN</text></g>
<g id="c61" class="n p" transform="translate(206 1155) scale(.88)"><use href="#f"/><text x="10" y="-9">PPP1R15A</text></g>
<g id="c62" class="n g" transform="translate(75 1150) scale(.88)"><use href="#a"/><text x="10" y="-9">ARPC1B</text></g>
<g id="c63" class="n m x1" transform="translate(116 1150) scale(.88)"><use href="#b"/><text x="10" y="-9">BAIAP2</text></g>
<g id="c64" class="n p x3" transform="translate(117 1171) scale(.88)"><use href="#c"/><text x="10" y="-9">PIAS4</text></g>
<g id="c65" class="n g" transform="translate(328 967) scale(.88)"><use href="#f"/><text x="10" y="-9">MED16</text></g>
<g id="c66" class="n y x1" transform="translate(311 987) scale(.88)"><use href="#c"/><text x="10" y="-9">PLOD1</text></g>
<g id="c67" class="n p" transform="translate(287 1008) scale(.88)"><use href="#a"/><text x="10" y="-9">PPIB</text></g>
<g id="c68" class="n y x1" transform="translate(343 1006) scale(.88)"><use href="#c"/><text x="10" y="-9">COL5A1</text></g>
<g id="c69" class="n R" transform="translate(323 1026) scale(.88)"><use href="#f"/><text x="10" y="-9">COL14A1</text></g>
<g id="c70" class="n t x1" transform="translate(306 1042) scale(.88)"><use href="#c"/><text x="10" y="-9">COL6A2</text></g>
<g id="c71" class="n y x1" transform="translate(255 1027) scale(.88)"><use href="#c"/><text x="10" y="-9">HDAC11</text></g>
<g id="c72" class="n p" transform="translate(270 1068) scale(.88)"><use href="#a"/><text x="10" y="-9">CHD4</text></g>
<g id="c73" class="n r x4" transform="translate(313 1074) scale(.88)"><use href="#a"/><text x="10" y="-9">SIRT2</text></g>
<g id="c74" class="n m x1" transform="translate(294 1091) scale(.88)"><use href="#f"/><text x="10" y="-9">WDR74</text></g>
<g id="c75" class="n y x1" transform="translate(243 1102) scale(.88)"><use href="#c"/><text x="10" y="-9">EHMT2</text></g>
<g id="c76" class="n g x1" transform="translate(280 1130) scale(.88)"><use href="#b"/><text x="10" y="-9">RPF1</text></g>
<g id="c77" class="n t x1" transform="translate(255 1162) scale(.88)"><use href="#c"/><text x="10" y="-9">RRP1</text></g>
<g id="c78" class="n p" transform="translate(328 1140) scale(.88)"><use href="#a"/><text x="10" y="-9">NUCB1</text></g>
<g id="c79" class="n o x4" transform="translate(343 1116) scale(.88)"><use href="#a"/><text x="10" y="-9">BMP4</text></g>
<g id="c80" class="n t" transform="translate(356 1052) scale(.88)"><use href="#a"/><text x="10" y="-9">P4HB</text></g>
<g id="c81" class="n y x3" transform="translate(392 1016) scale(.88)"><use href="#c"/><text x="10" y="-9">P4HA2</text></g>
<g id="c82" class="n t" transform="translate(366 976) scale(.88)"><use href="#base"/><use href="#top"/><text x="10" y="-9">MED12</text></g>
<g id="c83" class="n o x4" transform="translate(355 934) scale(.88)"><use href="#c"/><text x="10" y="-9">MED25</text></g>
<g id="c84" class="n y x4" transform="translate(395 914) scale(.88)"><use href="#c"/><text x="10" y="-9">MED15</text></g>
<g id="c85" class="n v x4" transform="translate(375 893) scale(.88)"><use href="#b"/><text x="10" y="-9">INPPL1</text></g>
<g id="c86" class="n g" transform="translate(415 887) scale(.88)"><use href="#c"/><text x="10" y="-9">CSF2</text></g>
<g id="c87" class="n y x4" transform="translate(402 867) scale(.88)"><use href="#a"/><text x="10" y="-9">DMAP1</text></g>
<g id="c88" class="n lb x3" transform="translate(358 854) scale(.88)"><use href="#f"/><text x="10" y="-9">RUVBL2</text></g>
<g id="c89" class="n lb" transform="translate(451 781) scale(.88)"><use href="#base"/><use href="#top"/><text x="10" y="-9">KXD1</text></g>
<g id="c90" class="n m x1" transform="translate(492 775) scale(.88)"><use href="#c"/><text x="10" y="-9">C17orf59</text></g>
<g id="c92" class="n g x1" transform="translate(459 818) scale(.88)"><use href="#f"/><text x="10" y="-9">MRP</text></g>
<g id="c91" class="n bl x1" transform="translate(481 799) scale(.88)"><use href="#f"/><text x="10" y="-9">MRPL38</text></g>
<g id="c93" class="n p" transform="translate(507 814) scale(.88)"><use href="#f"/><text x="10" y="-9">MRPS34</text></g>
<g id="c94" class="n g x1" transform="translate(423 835) scale(.88)"><use href="#c"/><text x="10" y="-9">ARFRP1</text></g>
<g id="c96" class="n l x1" transform="translate(500 844) scale(.88)"><use href="#f"/><text x="10" y="-9">MRPL12</text></g>
<g id="c95" class="n m" transform="translate(470 846) scale(.88)"><use href="#f"/><text x="10" y="-9">GADD45GIP1</text></g>
<g id="c97" class="n g x3" transform="translate(483 865) scale(.88)"><use href="#c"/><text x="10" y="-9">TMEM115</text></g>
<g id="c98" class="n t x3" transform="translate(450 870) scale(.88)"><use href="#a"/><text x="10" y="-9">COG4</text></g>
<g id="c99" class="n m x3" transform="translate(548 847) scale(.88)"><use href="#c"/><text x="10" y="-9">LMAN2</text></g>
<g id="c100" class="n s x2" transform="translate(576 853) scale(.88)"><use href="#c"/><text x="10" y="-9">TRAPPC6A</text></g>
<g id="c101" class="n g x4" transform="translate(648 854) scale(.88)"><use href="#f"/><text x="10" y="-9">MAD1L1</text></g>
<g id="c102" class="n o x4" transform="translate(667 884) scale(.88)"><use href="#a"/><text x="10" y="-9">NUDC</text></g>
<g id="c103" class="n m x1" transform="translate(567 879) scale(.88)"><use href="#f"/><text x="10" y="-9">CNIH3</text></g>
<g id="c104" class="n o x4" transform="translate(523 906) scale(.88)"><use href="#c"/><text x="10" y="-9">YKT6</text></g>
<g id="c105" class="n m x1" transform="translate(596 911) scale(.88)"><use href="#a"/><text x="10" y="-9">SEC13</text></g>
<g id="c106" class="n bl" transform="translate(635 913) scale(.88)"><use href="#a"/><text x="10" y="-9">HLA-F</text></g>
<g id="c107" class="n l x4" transform="translate(463 917) scale(.88)"><use href="#f"/><text x="10" y="-9">COPE</text></g>
<g id="c109" class="n t x1" transform="translate(428 934) scale(.88)"><use href="#a"/><text x="10" y="-9">KLC1</text></g>
<g id="c110" class="n o x1" transform="translate(464 942) scale(.88)"><use href="#c"/></g>
<g id="c108" class="n g x3" transform="translate(482 927) scale(.88)"><use href="#c"/><text x="10" y="-9">TMED9</text></g>
<g id="c111" class="n p x4" transform="translate(412 959) scale(.88)"><use href="#c"/><text x="10" y="-9">MLST8</text></g>
<g id="c112" class="n g x2" transform="translate(391 994) scale(.88)"><use href="#a"/><text x="10" y="-9">ATG101</text></g>
<g id="c113" class="n bl" transform="translate(432 994) scale(.88)"><use href="#f"/><text x="10" y="-9">LAMTOR1</text></g>
<g id="c114" class="n y x4" transform="translate(510 980) scale(.88)"><use href="#c"/><text x="10" y="-9">ARF1</text></g>
<g id="c115" class="n g" transform="translate(582 984) scale(.88)"><use href="#a"/><text x="10" y="-9">HLA-DP</text></g>
<g id="c116" class="n lb x1" transform="translate(619 973) scale(.88)"><use href="#c"/><text x="10" y="-9">HLA-B</text></g>
<g id="c117" class="n r x2" transform="translate(623 1011) scale(.88)"><use href="#b"/><text x="10" y="-9">HLA-DMB</text></g>
<g id="c118" class="n p x1" transform="translate(531 1017) scale(.88)"><use href="#c"/><text x="10" y="-9">AP1B1</text></g>
<g id="c120" class="n bl x3" transform="translate(538 1046) scale(.88)"><use href="#b"/><text x="10" y="-9">DN</text></g>
<g id="c119" class="n bl x3" transform="translate(562 1034) scale(.88)"><use href="#c"/><text x="10" y="-9">DNASE2</text></g>
<g id="c121" class="n m x2" transform="translate(502 1048) scale(.88)"><use href="#b"/><text x="10" y="-9">GAK</text></g>
<g id="c123" class="n o" transform="translate(515 1104) scale(.88)"><use href="#base"/><use href="#top"/><text x="10" y="-9">G3</text></g>
<g id="c122" class="n g" transform="translate(526 1085) scale(.88)"><use href="#f"/><text x="10" y="-9">PACSIN3</text></g>
<g id="c124" class="n g" transform="translate(441 1023) scale(.88)"><use href="#f"/><text x="10" y="-9">CYTH2</text></g>
<g id="c125" class="n lb x2" transform="translate(443 1039) scale(.88)"><use href="#f"/><text x="10" y="-9">CHMP4B</text></g>
<g id="c126" class="n d x1" transform="translate(403 1045) scale(.88)"><use href="#c"/><text x="10" y="-9">MVB12A</text></g>
<g id="c127" class="n p x4" transform="translate(411 1087) scale(.88)"><use href="#c"/><text x="10" y="-9">MFGE8</text></g>
<g id="c128" class="n p x1" transform="translate(440 1071) scale(.88)"><use href="#c"/><text x="10" y="-9">CSF1</text></g>
<g id="c129" class="n p" transform="translate(466 1091) scale(.88)"><use href="#base"/><use href="#top"/><text x="10" y="-9">SHISA5</text></g>
<g id="c130" class="n l x4" transform="translate(459 1119) scale(.88)"><use href="#a"/><text x="10" y="-9">APOE</text></g>
<g id="c131" class="n s x1" transform="translate(475 1143) scale(.88)"><use href="#c"/><text x="10" y="-9">GAS6</text></g>
<g id="c132" class="n t" transform="translate(393 1132) scale(.88)"><use href="#a"/><text x="10" y="-9">FAM20C</text></g>
<g id="c133" class="n m" transform="translate(455 1165) scale(.88)"><use href="#a"/><text x="10" y="-9">MEN1</text></g>
<g id="c134" class="n bl" transform="translate(441 1191) scale(.88)"><use href="#c"/><text x="10" y="-9">FAM20A</text></g>
<g id="c135" class="n y x4" transform="translate(409 1185) scale(.88)"><use href="#a"/><text x="10" y="-9">QSOX1</text></g>
<g id="c136" class="n p x3" transform="translate(359 1177) scale(.88)"><use href="#f"/><text x="10" y="-9">TMEM132A</text></g>
<g id="c137" class="n t x1" transform="translate(359 1195) scale(.88)"><use href="#f"/><text x="10" y="-9">FBLN1</text></g>
<g id="c138" class="n y x2" transform="translate(380 1216) scale(.88)"><use href="#c"/><text x="10" y="-9">IL6</text></g>
<g id="c139" class="n r x4" transform="translate(376 1261) scale(.88)"><use href="#c"/><text x="10" y="-9">TYK2</text></g>
<g id="c140" class="n t x3" transform="translate(372 1304) scale(.88)"><use href="#a"/><text x="10" y="-9">IL11</text></g>
<g id="c141" class="n y x1" transform="translate(319 1201) scale(.88)"><use href="#a"/><text x="10" y="-9">MFAP2</text></g>
<g id="c142" class="n t x1" transform="translate(314 1171) scale(.88)"><use href="#b"/><text x="10" y="-9">LAMB2</text></g>
<g id="c143" class="n g x1" transform="translate(271 1188) scale(.88)"><use href="#a"/><text x="10" y="-9">LAMA4</text></g>
<g id="c144" class="n s" transform="translate(578 1076) scale(.88)"><use href="#base"/><use href="#top"/><text x="10" y="-9">AGTRAP</text></g>
<g id="c145" class="n m x2" transform="translate(601 1075) scale(.88)"><use href="#c"/><text x="10" y="-9">BCL2L11</text></g>
<g id="c147" class="n m" transform="translate(559 1108) scale(.88)"><use href="#a"/><text x="10" y="-9">MAPK3</text></g>
<g id="c146" class="n l" transform="translate(623 1104) scale(.88)"><use href="#f"/><text x="10" y="-9">CSK</text></g>
<g id="c148" class="n p x1" transform="translate(594 1115) scale(.88)"><use href="#c"/><text x="10" y="-9">MAP2K2</text></g>
<g id="c149" class="n bl" transform="translate(614 1165) scale(.88)"><use href="#a"/><text x="10" y="-9">ARAF</text></g>
<g id="c150" class="n m x1" transform="translate(579 1170) scale(.88)"><use href="#c"/><text x="10" y="-9">HRAS</text></g>
<g id="c151" class="n g" transform="translate(602 1206) scale(.88)"><use href="#a"/><text x="10" y="-9">PEBP1</text></g>
<g id="c152" class="n m" transform="translate(527 1163) scale(.88)"><use href="#f"/><text x="10" y="-9">HSPB1</text></g>
<g id="c153" class="n p" transform="translate(511 1203) scale(.88)"><use href="#c"/><text x="10" y="-9">EIF4G1</text></g>
<g id="c154" class="n l x2" transform="translate(458 1211) scale(.88)"><use href="#c"/><text x="10" y="-9">SMG9</text></g>
<g id="c156" class="n l" transform="translate(525 1235) scale(.88)"><use href="#base"/><use href="#top"/><text x="10" y="-9">RPL28</text></g>
<g id="c155" class="n p x1" transform="translate(489 1233) scale(.88)"><use href="#c"/><text x="10" y="-9">RPL13A</text></g>
<g id="c157" class="n t" transform="translate(447 1246) scale(.88)"><use href="#f"/><text x="10" y="-9">RPL29</text></g>
<g id="c158" class="n t" transform="translate(559 1252) scale(.88)"><use href="#f"/><text x="10" y="-9">EIF3G</text></g>
<g id="c160" class="n g x1" transform="translate(511 1277) scale(.88)"><use href="#b"/><text x="10" y="-9">RPS2</text></g>
<g id="c159" class="n bl" transform="translate(483 1276) scale(.88)"><use href="#f"/><text x="10" y="-9">RPS9</text></g>
<g id="c161" class="n s x1" transform="translate(476 1337) scale(.88)"><use href="#a"/><text x="10" y="-9">WDR46</text></g>
<g id="c162" class="n s x2" transform="translate(514 1338) scale(.88)"><use href="#c"/><text x="10" y="-9">TBL3</text></g>
<g id="c163" class="n s x1" transform="translate(52 1203) scale(.88)"><use href="#a"/><text x="10" y="-9">TUBGCP3</text></g>
<g id="c164" class="n bl" transform="translate(74 1191) scale(.88)"><use href="#base"/><use href="#top"/><text x="10" y="-9">SSNA1</text></g>
<g id="c165" class="n g x1" transform="translate(96 1204) scale(.88)"><use href="#c"/><text x="10" y="-9">TUBA4A</text></g>
<g id="c167" class="n s x2" transform="translate(51 1228) scale(.88)"><use href="#c"/><text x="10" y="-9">TUBGCP2</text></g>
<g id="c166" class="n m" transform="translate(95 1230) scale(.88)"><use href="#f"/><text x="10" y="-9">NUMA1</text></g>
<g id="c168" class="n o x1" transform="translate(72 1242) scale(.88)"><use href="#c"/><text x="10" y="-9">HA</text></g>
<g id="c169" class="n m" transform="translate(144 1207) scale(.88)"><use href="#c"/><text x="10" y="-9">HERC2</text></g>
<g id="c170" class="n p" transform="translate(195 1190) scale(.88)"><use href="#a"/><text x="10" y="-9">RBCK1</text></g>
<g id="c171" class="n p x3" transform="translate(236 1207) scale(.88)"><use href="#a"/><text x="10" y="-9">MIB2</text></g>
<g id="c172" class="n g x1" transform="translate(196 1236) scale(.88)"><use href="#c"/><text x="10" y="-9">UBA7</text></g>
<g id="c173" class="n m" transform="translate(178 1249) scale(.88)"><use href="#a"/><text x="10" y="-9">UBE2L6</text></g>
<g id="c174" class="n p" transform="translate(202 1252) scale(.88)"><use href="#b"/><text x="10" y="-9">UBE2Z</text></g>
<g id="c175" class="n p" transform="translate(129 1247) scale(.88)"><use href="#a"/><text x="10" y="-9">MYLIP</text></g>
<g id="c176" class="n p" transform="translate(254 1240) scale(.88)"><use href="#f"/><text x="10" y="-9">LRSAM1</text></g>
<g id="c177" class="n o x4" transform="translate(188 1276) scale(.88)"><use href="#a"/><text x="10" y="-9">UBE2M</text></g>
<g id="c178" class="n t" transform="translate(257 1279) scale(.88)"><use href="#a"/><text x="10" y="-9">CUL7</text></g>
<g id="c179" class="n l x4" transform="translate(302 1290) scale(.88)"><use href="#a"/><text x="10" y="-9">OBSL1</text></g>
<g id="c180" class="n l" transform="translate(141 1297) scale(.88)"><use href="#f"/><text x="10" y="-9">FBXW5</text></g>
<g id="c181" class="n l" transform="translate(95 1311) scale(.88)"><use href="#base"/><use href="#top"/><text x="10" y="-9">TRPC4AP</text></g>
<g id="c182" class="n t x3" transform="translate(215 1311) scale(.88)"><use href="#c"/><text x="10" y="-9">KLHL22</text></g>
<g id="c183" class="n lb" transform="translate(155 1335) scale(.88)"><use href="#base"/><use href="#top"/><text x="10" y="-9">COMMD7</text></g>
<g id="c186" class="n m" transform="translate(171 1355) scale(.88)"><use href="#a"/><text x="10" y="-9">DC</text></g>
<g id="c184" class="n p x3" transform="translate(195 1343) scale(.88)"><use href="#f"/><text x="10" y="-9">CCDC22</text></g>
</g>
</svg>
